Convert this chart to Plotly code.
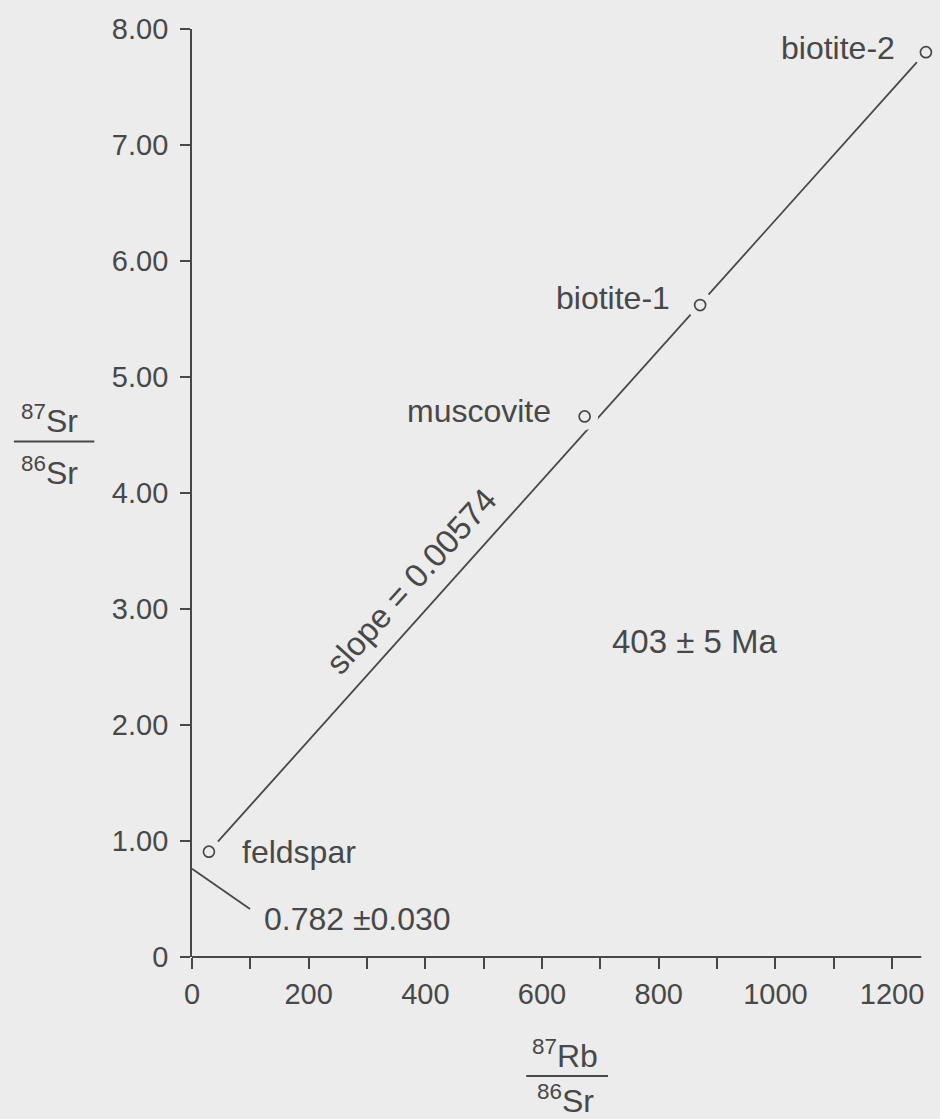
import plotly.graph_objects as go

# ---- data ----
minerals = ["feldspar", "muscovite", "biotite-1", "biotite-2"]
rb86 = [29, 673, 871, 1258]          # 87Rb/86Sr
sr86 = [0.908, 4.66, 5.62, 7.80]     # 87Sr/86Sr
isochron_x = [29, 1258]
isochron_y = [0.908, 7.80]
intercept_label = "0.782 ±0.030"
intercept_tip = 0.76
slope_label = "slope = 0.00574"
age_label = "403 ± 5 Ma"
x_axis_end = 1250
x_tickvals = list(range(0, 1300, 100))
x_ticktext = [str(v) if v % 200 == 0 else "" for v in x_tickvals]
y_tickvals = [0, 1, 2, 3, 4, 5, 6, 7, 8]
y_ticktext = ["0", "1.00", "2.00", "3.00", "4.00", "5.00", "6.00", "7.00", "8.00"]

BG = "#ececec"
INK = "#484848"
FONT = "Liberation Sans, Arial, sans-serif"

fig = go.Figure()
fig.add_trace(go.Scatter(x=isochron_x, y=isochron_y, mode="lines",
                         line=dict(color=INK, width=1.8), hoverinfo="skip"))
# halo to leave gaps in the line around the circles
fig.add_trace(go.Scatter(x=rb86, y=sr86, mode="markers", cliponaxis=False,
                         marker=dict(size=27, color=BG, line=dict(width=0))))
fig.add_trace(go.Scatter(x=rb86, y=sr86, mode="markers", cliponaxis=False,
                         marker=dict(size=11, color=BG, symbol="circle",
                                     line=dict(color=INK, width=1.7))))

label_fmt = {
    "feldspar": dict(xanchor="left", xshift=31, yshift=0),
    "muscovite": dict(xanchor="right", xshift=-32, yshift=5),
    "biotite-1": dict(xanchor="right", xshift=-28, yshift=7),
    "biotite-2": dict(xanchor="right", xshift=-29, yshift=4),
}
for name, xv, yv in zip(minerals, rb86, sr86):
    f = label_fmt[name]
    fig.add_annotation(x=xv, y=yv, text=name, showarrow=False,
                       xanchor=f["xanchor"], yanchor="middle",
                       xshift=f["xshift"], yshift=f["yshift"],
                       font=dict(size=32, color=INK, family=FONT))

# intercept pointer + label
fig.add_annotation(x=0, y=intercept_tip, ax=102, ay=0.405, axref="x", ayref="y",
                   text="", showarrow=True, arrowhead=0, arrowwidth=1.8,
                   arrowcolor=INK, standoff=0, startstandoff=0)
fig.add_annotation(x=119.6, y=0.33, text=intercept_label, showarrow=False,
                   xanchor="left", yanchor="middle",
                   font=dict(size=32, color=INK, family=FONT))
fig.add_annotation(x=375, y=3.24, text=slope_label, showarrow=False,
                   textangle=-48, xanchor="center", yanchor="middle",
                   font=dict(size=33, color=INK, family=FONT))
fig.add_annotation(x=863, y=2.72, text=age_label, showarrow=False,
                   xanchor="center", yanchor="middle",
                   font=dict(size=33, color=INK, family=FONT))

# x axis line stops at 1250 (range is padded so biotite-2 stays visible)
fig.add_shape(type="line", xref="x", yref="paper", x0=0, x1=x_axis_end,
              y0=0, y1=0, line=dict(color=INK, width=1.8), layer="above")

# axis titles as stacked fractions
tfont = dict(size=32, color=INK, family=FONT)
fig.add_annotation(xref="paper", yref="paper", x=-0.193, y=0.580,
                   text="<sup>87</sup>Sr", showarrow=False, font=tfont,
                   xanchor="center", yanchor="middle")
fig.add_annotation(xref="paper", yref="paper", x=-0.193, y=0.524,
                   text="<sup>86</sup>Sr", showarrow=False, font=tfont,
                   xanchor="center", yanchor="middle")
fig.add_shape(type="line", xref="paper", yref="paper", x0=-0.2413, x1=-0.1324,
              y0=0.5555, y1=0.5555, line=dict(color=INK, width=2))
fig.add_annotation(xref="paper", yref="paper", x=0.505, y=-0.1046,
                   text="<sup>87</sup>Rb", showarrow=False, font=tfont,
                   xanchor="center", yanchor="middle")
fig.add_annotation(xref="paper", yref="paper", x=0.506, y=-0.1531,
                   text="<sup>86</sup>Sr", showarrow=False, font=tfont,
                   xanchor="center", yanchor="middle")
fig.add_shape(type="line", xref="paper", yref="paper", x0=0.4529, x1=0.5637,
              y0=-0.1283, y1=-0.1283, line=dict(color=INK, width=2))

fig.update_layout(
    width=940, height=1119,
    margin=dict(l=192, r=10, t=29, b=162),
    paper_bgcolor=BG, plot_bgcolor=BG,
    showlegend=False,
    font=dict(family=FONT, color=INK, size=28),
)
fig.update_xaxes(range=[0, 1265], tickvals=x_tickvals, ticktext=x_ticktext,
                 ticks="outside", ticklen=11, tickwidth=1.8, tickcolor=INK,
                 showline=False, showgrid=False, zeroline=False,
                 tickfont=dict(size=29, color=INK, family=FONT))
fig.update_yaxes(range=[0, 8], tickvals=y_tickvals, ticktext=y_ticktext,
                 ticks="outside", ticklen=10, tickwidth=1.8, tickcolor=INK,
                 showline=True, linecolor=INK, linewidth=1.8,
                 showgrid=False, zeroline=False, ticklabelstandoff=6,
                 tickfont=dict(size=29, color=INK, family=FONT))

fig.write_html("out.html")
